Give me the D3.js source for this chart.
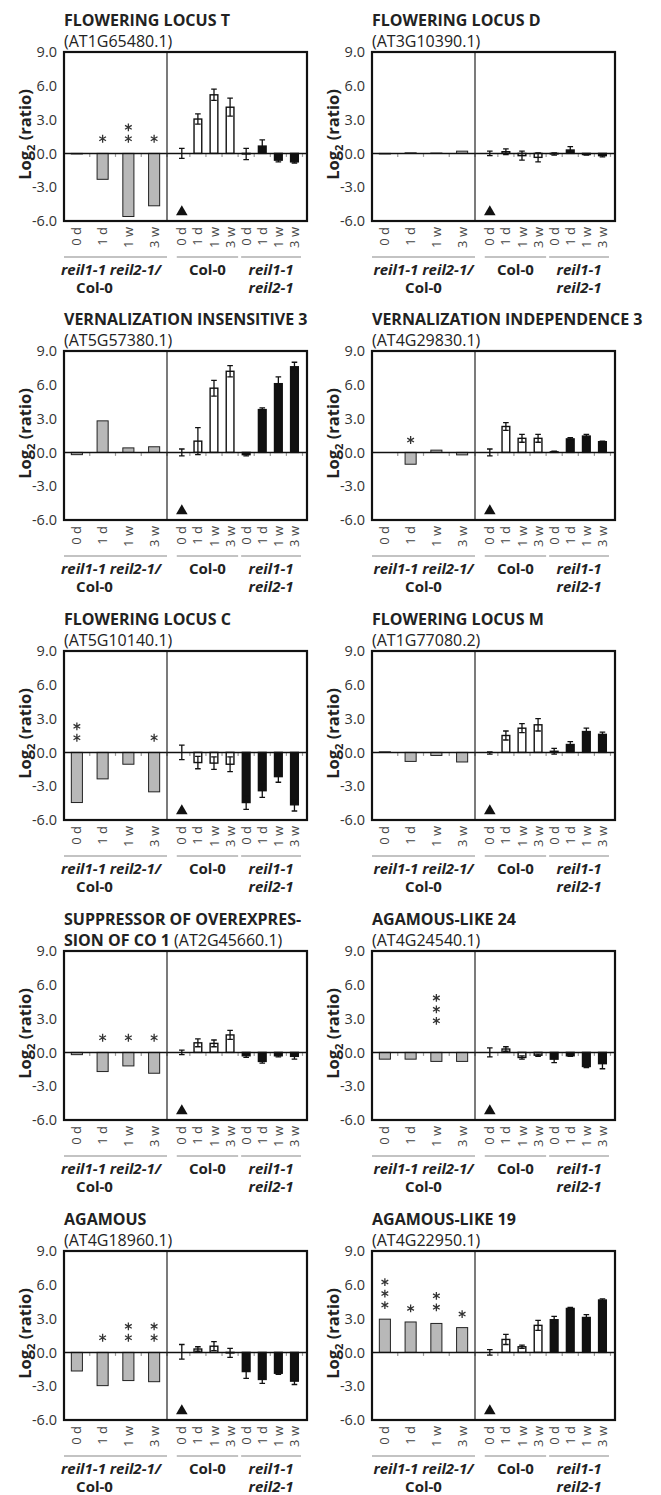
<!DOCTYPE html>
<html>
<head>
<meta charset="utf-8">
<script src="https://cdn.jsdelivr.net/npm/d3@7"></script>
<style>
  body { margin: 0; background: #fff; }
  svg text { font-family: "Open Sans", sans-serif; }
</style>
</head>
<body>
<svg id="chart" width="661" height="1495"></svg>
<script>
// gene names ("|" = line break inside the bold name) and locus ids
const geneNames = [
  "FLOWERING LOCUS T", "FLOWERING LOCUS D",
  "VERNALIZATION INSENSITIVE 3", "VERNALIZATION INDEPENDENCE 3",
  "FLOWERING LOCUS C", "FLOWERING LOCUS M",
  "SUPPRESSOR OF OVEREXPRES-|SION OF CO 1", "AGAMOUS-LIKE 24",
  "AGAMOUS", "AGAMOUS-LIKE 19"
];
const geneIds = [
  "(AT1G65480.1)", "(AT3G10390.1)", "(AT5G57380.1)", "(AT4G29830.1)",
  "(AT5G10140.1)", "(AT1G77080.2)", "(AT2G45660.1)", "(AT4G24540.1)",
  "(AT4G18960.1)", "(AT4G22950.1)"
];
const times = ["0 d", "1 d", "1 w", "3 w"];
const yTicks = [9, 6, 3, 0, -3, -6];

// reil1-1 reil2-1 / Col-0 log2 ratios (grey bars)
const ratioVals = [
  [-0.05, -2.3, -5.6, -4.65],
  [-0.05, 0.05, 0.03, 0.2],
  [-0.2, 2.8, 0.4, 0.5],
  [0, -1.05, 0.2, -0.22],
  [-4.45, -2.35, -1.05, -3.5],
  [0.05, -0.8, -0.27, -0.85],
  [-0.2, -1.7, -1.2, -1.85],
  [-0.6, -0.6, -0.8, -0.8],
  [-1.65, -2.95, -2.5, -2.6],
  [2.95, 2.7, 2.57, 2.2]
];
// Col-0 vs Col-0 0 d (white bars)
const col0Vals = [
  [0, 3.05, 5.2, 4.1],
  [0, 0.15, -0.2, -0.35],
  [0, 1.0, 5.7, 7.2],
  [0, 2.3, 1.25, 1.25],
  [0, -0.9, -0.95, -1.05],
  [-0.05, 1.5, 2.15, 2.45],
  [0, 0.85, 0.8, 1.55],
  [0, 0.3, -0.45, -0.25],
  [0.05, 0.3, 0.55, -0.05],
  [0, 1.15, 0.5, 2.4]
];
const col0Err = [
  [0.45, 0.45, 0.5, 0.8],
  [0.2, 0.25, 0.4, 0.4],
  [0.3, 1.2, 0.7, 0.5],
  [0.3, 0.35, 0.35, 0.35],
  [0.65, 0.55, 0.55, 0.65],
  [0.1, 0.4, 0.4, 0.55],
  [0.2, 0.35, 0.3, 0.4],
  [0.4, 0.2, 0.15, 0.1],
  [0.65, 0.2, 0.4, 0.4],
  [0.25, 0.45, 0.15, 0.45]
];
// reil1-1 reil2-1 vs Col-0 0 d (black bars)
const reilVals = [
  [-0.05, 0.65, -0.6, -0.75],
  [-0.05, 0.3, -0.1, -0.2],
  [-0.2, 3.8, 6.1, 7.6],
  [0.05, 1.2, 1.45, 0.95],
  [-4.45, -3.4, -2.15, -4.65],
  [0.1, 0.7, 1.85, 1.6],
  [-0.3, -0.8, -0.3, -0.35],
  [-0.6, -0.3, -1.25, -1.0],
  [-1.7, -2.4, -1.85, -2.55],
  [2.9, 3.9, 3.1, 4.65]
];
const reilErr = [
  [0.5, 0.55, 0.15, 0.1],
  [0.1, 0.3, 0.05, 0.1],
  [0.1, 0.15, 0.6, 0.4],
  [0.05, 0.1, 0.15, 0.05],
  [0.6, 0.6, 0.5, 0.55],
  [0.25, 0.25, 0.3, 0.2],
  [0.15, 0.15, 0.1, 0.25],
  [0.3, 0.05, 0.1, 0.45],
  [0.6, 0.35, 0.1, 0.3],
  [0.3, 0.1, 0.25, 0.1]
];
// significance stars over the grey bars: count and value of the lowest star
const starCounts = [
  [0, 1, 2, 1], [0, 0, 0, 0], [0, 0, 0, 0], [0, 1, 0, 0], [2, 0, 0, 1],
  [0, 0, 0, 0], [0, 1, 1, 1], [0, 0, 3, 0], [0, 1, 2, 2], [3, 1, 2, 1]
];
const starBase = [
  [1.3, 1.3, 1.3, 1.3], [1.3, 1.3, 1.3, 1.3], [1.3, 1.3, 1.3, 1.3], [1.1, 1.1, 1.1, 1.1],
  [1.3, 1.3, 1.3, 1.3], [1.3, 1.3, 1.3, 1.3], [1.3, 1.3, 1.3, 1.3], [2.8, 2.8, 2.8, 2.8],
  [1.3, 1.3, 1.3, 1.3], [4.2, 3.9, 4.0, 3.4]
];

// layout
const colX = [64, 372];
const rowY = [52, 351, 651, 951, 1251];
const W = 243, H = 169, divX = 103;
// the left column's first group label sits a little further left in the figure
const leftLabelDx = [[-4.5, -21], [0, 0]];

const svg = d3.select("#chart");

const y = d3.scaleLinear().domain([-6, 9]).range([H, 0]);
const xL = d3.scaleBand().domain(d3.range(4)).range([0, divX]);
const xR = d3.scaleBand().domain(d3.range(8)).range([divX, W]).paddingOuter(0.35).align(0.6);
const greyW = xL.bandwidth() * 0.43;
const rightW = xR.bandwidth() * 0.48;

function errorBar(g, cx, v, e) {
  const cap = 2.8;
  const p = d3.path();
  p.moveTo(cx, y(v - e)); p.lineTo(cx, y(v + e));
  p.moveTo(cx - cap, y(v + e)); p.lineTo(cx + cap, y(v + e));
  p.moveTo(cx - cap, y(v - e)); p.lineTo(cx + cap, y(v - e));
  g.append("path").attr("d", p.toString())
    .attr("stroke", "#111").attr("stroke-width", 1.3).attr("fill", "none");
}

function drawPanel(i) {
  const col = i % 2, row = Math.floor(i / 2);
  const g = svg.append("g").attr("transform", `translate(${colX[col]},${rowY[row]})`);

  // title
  const parts = geneNames[i].split("|");
  g.append("text").attr("x", 0).attr("y", -26)
    .attr("font-size", 16).attr("font-weight", "bold").attr("fill", "#222")
    .text(parts[0]);
  const t2 = g.append("text").attr("x", 0).attr("y", -5)
    .attr("font-size", 16).attr("fill", "#222");
  if (parts.length > 1) {
    t2.append("tspan").attr("font-weight", "bold").text(parts[1] + " ");
  }
  t2.append("tspan").text(geneIds[i]);

  // y axis labels
  const ya = g.append("g")
    .call(d3.axisLeft(y).tickValues(yTicks).tickSize(0).tickPadding(7).tickFormat(d => d.toFixed(1)));
  ya.select(".domain").remove();
  ya.selectAll("text").attr("font-size", 14.5).attr("fill", "#333").attr("font-family", "Open Sans");

  // y title
  const yl = g.append("text")
    .attr("transform", `translate(-33,${H / 2 - 2}) rotate(-90)`)
    .attr("text-anchor", "middle")
    .attr("font-size", 16.5).attr("font-weight", "bold").attr("fill", "#222");
  yl.append("tspan").text("Log");
  yl.append("tspan").attr("font-size", 11).attr("dy", 4).text("2");
  yl.append("tspan").attr("dy", -4).text(" (ratio)");

  // small category ticks under zero line
  const tickXs = d3.range(4).map(k => xL(k) + xL.bandwidth())
    .concat(d3.range(8).map(k => xR(k) + xR.bandwidth()));
  g.selectAll(".ztick").data(tickXs).join("line")
    .attr("x1", d => d).attr("x2", d => d)
    .attr("y1", y(0)).attr("y2", y(0) + 3.5)
    .attr("stroke", "#999").attr("stroke-width", 1.2);

  // grey ratio bars
  g.selectAll(".grey").data(ratioVals[i]).join("rect")
    .attr("x", (d, k) => xL(k) + (xL.bandwidth() - greyW) / 2)
    .attr("y", d => y(Math.max(0, d)))
    .attr("width", greyW)
    .attr("height", d => Math.abs(y(d) - y(0)))
    .attr("fill", "#b8b8b8").attr("stroke", "#222").attr("stroke-width", 1);

  // stars
  ratioVals[i].forEach((v, k) => {
    for (let s = 0; s < starCounts[i][k]; s++) {
      g.append("path")
        .attr("d", d3.symbol(d3.symbolAsterisk, 42)())
        .attr("transform", `translate(${xL(k) + xL.bandwidth() / 2},${y(starBase[i][k] + s * 1.02)})`)
        .attr("stroke", "#333").attr("stroke-width", 1.3).attr("fill", "none");
    }
  });

  // Col-0 (white) and reil (black) bars, first Col-0 is the reference
  const rightVals = col0Vals[i].concat(reilVals[i]);
  const rightErr = col0Err[i].concat(reilErr[i]);
  g.selectAll(".rbar").data(rightVals.map((v, k) => ({ v, k })).filter(d => d.k > 0)).join("rect")
    .attr("x", d => xR(d.k) + (xR.bandwidth() - rightW) / 2)
    .attr("y", d => y(Math.max(0, d.v)))
    .attr("width", rightW)
    .attr("height", d => Math.abs(y(d.v) - y(0)))
    .attr("fill", d => d.k < 4 ? "#fff" : "#111")
    .attr("stroke", "#111").attr("stroke-width", 1.4);
  rightVals.forEach((v, k) => errorBar(g, xR(k) + xR.bandwidth() / 2, v, rightErr[k]));

  // reference marker
  g.append("path")
    .attr("d", d3.symbol(d3.symbolTriangle, 58)())
    .attr("transform", `translate(${xR(0) + xR.bandwidth() / 2},${y(-5.2)})`)
    .attr("fill", "#111");

  // frame, divider and zero line
  g.append("line").attr("x1", 0).attr("x2", W).attr("y1", y(0)).attr("y2", y(0))
    .attr("stroke", "#111").attr("stroke-width", 1.5);
  g.append("line").attr("x1", divX).attr("x2", divX).attr("y1", 0).attr("y2", H)
    .attr("stroke", "#222").attr("stroke-width", 1.2);
  g.append("rect").attr("width", W).attr("height", H)
    .attr("fill", "none").attr("stroke", "#111").attr("stroke-width", 2.2);

  // rotated time labels
  [[xL, d3.range(4)], [xR, d3.range(8)]].forEach(([sc, dom]) => {
    const ax = g.append("g").attr("transform", `translate(0,${H})`)
      .call(d3.axisBottom(sc).tickValues(dom).tickSize(0).tickFormat(k => times[k % 4]));
    ax.select(".domain").remove();
    ax.selectAll("text")
      .attr("transform", "rotate(-90)")
      .attr("text-anchor", "end")
      .attr("x", -6).attr("y", 0).attr("dy", "0.35em")
      .attr("font-size", 13).attr("fill", "#444").attr("font-family", "Open Sans");
  });

  // group lines and labels
  const groups = [
    { x0: 0, x1: divX, dx: leftLabelDx[col], lines: [["reil1-1 reil2-1/", true], ["Col-0", false]] },
    { x0: xR(0) + 3, x1: xR(3) + xR.bandwidth(), dx: [0], lines: [["Col-0", false]] },
    { x0: xR(4) + 3, x1: xR(7) + xR.bandwidth() - 1.5, dx: [0, 0], lines: [["reil1-1", true], ["reil2-1", true]] }
  ];
  groups.forEach(gr => {
    g.append("line").attr("x1", gr.x0).attr("x2", gr.x1)
      .attr("y1", H + 36).attr("y2", H + 36)
      .attr("stroke", "#888").attr("stroke-width", 1.2);
    gr.lines.forEach(([txt, it], j) => {
      g.append("text").attr("x", (gr.x0 + gr.x1) / 2 + gr.dx[j]).attr("y", H + 54 + j * 18)
        .attr("text-anchor", "middle")
        .attr("font-size", 15).attr("font-weight", "bold")
        .attr("font-style", it ? "italic" : "normal").attr("fill", "#222")
        .text(txt);
    });
  });
}

d3.range(10).forEach(drawPanel);
</script>
</body>
</html>
